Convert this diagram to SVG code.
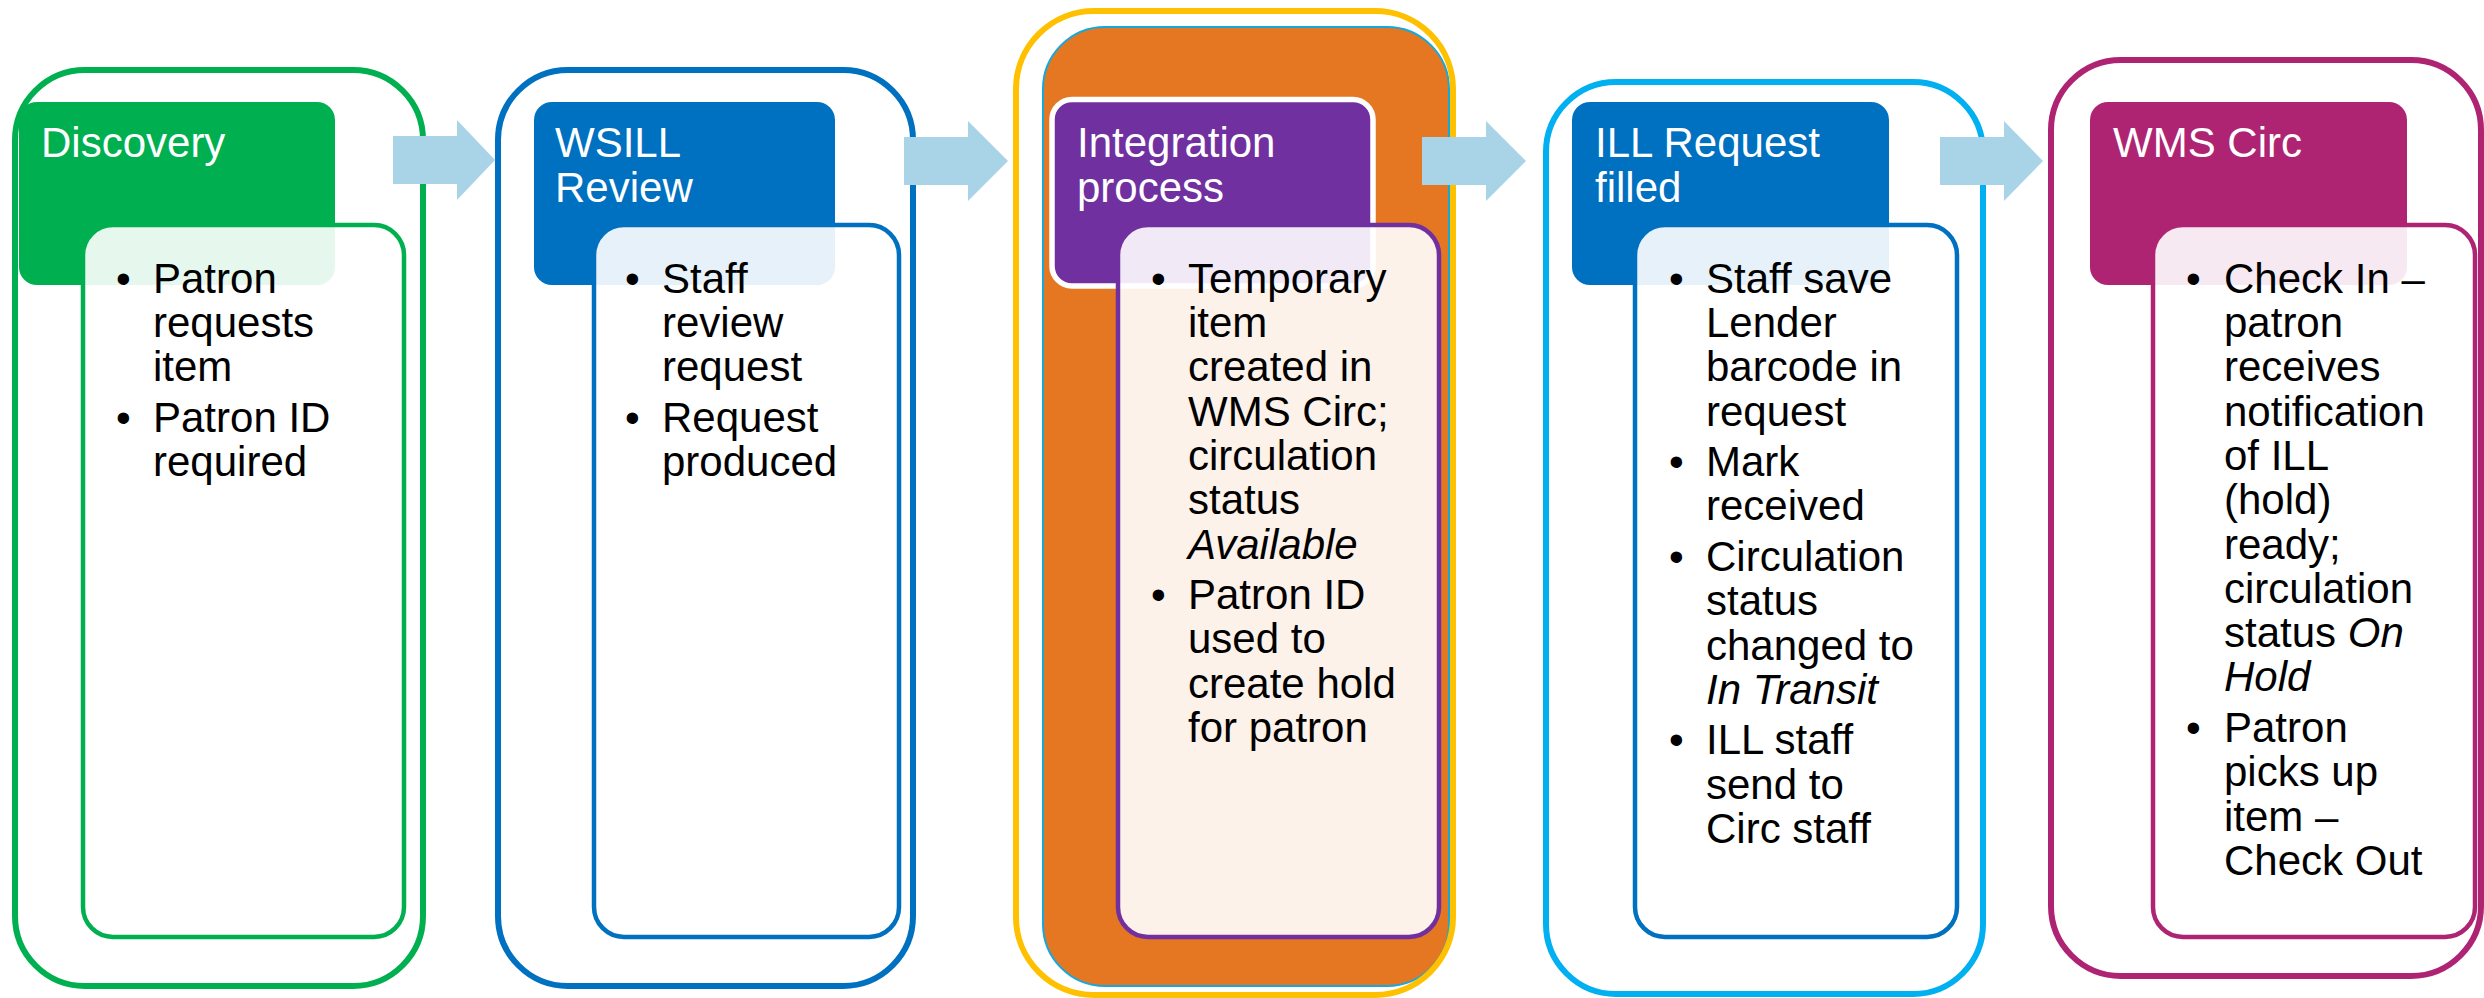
<svg xmlns="http://www.w3.org/2000/svg" width="2484" height="998" viewBox="0 0 2484 998">
<style>
text { font-family: "Liberation Sans", Arial, sans-serif; font-size: 42px; }
.hdr { fill: #ffffff; }
.body { fill: #000000; }
.it { font-style: italic; }
.arrow { fill: #A9D4E8; }
.frame { fill: none; stroke-width: 6; }
.content { stroke-width: 4.5; fill: #ffffff; fill-opacity: 0.9; }
</style>
<rect x="0" y="0" width="2484" height="998" fill="#ffffff"/>

<g id="discovery">
  <rect class="frame" x="15" y="70" width="408" height="916" rx="70" stroke="#00B050"/>
  <rect x="19" y="102" width="316" height="183" rx="18" fill="#00B050"/>
  <rect class="content" x="83" y="225" width="321" height="712" rx="30" stroke="#00B050"/>
  <text class="hdr" x="41" y="157">Discovery</text>
  <text class="body" x="116" y="292.7">•</text>
  <text class="body"><tspan x="153" y="292.7">Patron</tspan><tspan x="153" y="337">requests</tspan><tspan x="153" y="381.3">item</tspan></text>
  <text class="body" x="116" y="431.8">•</text>
  <text class="body"><tspan x="153" y="431.8">Patron ID</tspan><tspan x="153" y="476.1">required</tspan></text>
</g>

<g id="wsill">
  <rect class="frame" x="498" y="70" width="415" height="916" rx="70" stroke="#0070C0"/>
  <rect x="534" y="102" width="301" height="183" rx="18" fill="#0070C0"/>
  <rect class="content" x="594" y="225" width="305" height="712" rx="30" stroke="#0070C0"/>
  <text class="hdr"><tspan x="555" y="157">WSILL</tspan><tspan x="555" y="202">Review</tspan></text>
  <text class="body" x="625" y="292.7">•</text>
  <text class="body"><tspan x="662" y="292.7">Staff</tspan><tspan x="662" y="337">review</tspan><tspan x="662" y="381.3">request</tspan></text>
  <text class="body" x="625" y="431.8">•</text>
  <text class="body"><tspan x="662" y="431.8">Request</tspan><tspan x="662" y="476.1">produced</tspan></text>
</g>

<g id="integration">
  <rect x="1043" y="27" width="406" height="959" rx="62" fill="#E57722" stroke="#12A9DC" stroke-width="2"/>
  <rect class="frame" x="1016" y="11" width="437" height="984" rx="78" stroke="#FFC000"/>
  <rect x="1052" y="99.5" width="321" height="186.5" rx="20" fill="#7030A0" stroke="#ffffff" stroke-width="5.5"/>
  <rect class="content" x="1118" y="225" width="321" height="712" rx="30" stroke="#7030A0" stroke-width="5"/>
  <text class="hdr"><tspan x="1077" y="157">Integration</tspan><tspan x="1077" y="202">process</tspan></text>
  <text class="body" x="1151" y="292.7">•</text>
  <text class="body"><tspan x="1188" y="292.7">Temporary</tspan><tspan x="1188" y="337">item</tspan><tspan x="1188" y="381.3">created in</tspan><tspan x="1188" y="425.6">WMS Circ;</tspan><tspan x="1188" y="469.9">circulation</tspan><tspan x="1188" y="514.2">status</tspan><tspan x="1188" y="558.5" class="it">Available</tspan></text>
  <text class="body" x="1151" y="609">•</text>
  <text class="body"><tspan x="1188" y="609">Patron ID</tspan><tspan x="1188" y="653.3">used to</tspan><tspan x="1188" y="697.6">create hold</tspan><tspan x="1188" y="741.9">for patron</tspan></text>
</g>

<g id="ill-request">
  <rect class="frame" x="1546" y="82" width="437" height="912" rx="70" stroke="#00B0F0"/>
  <rect x="1572" y="102" width="317" height="183" rx="18" fill="#0070C0"/>
  <rect class="content" x="1635" y="225" width="322" height="712" rx="30" stroke="#0070C0"/>
  <text class="hdr"><tspan x="1595" y="157">ILL Request</tspan><tspan x="1595" y="202">filled</tspan></text>
  <text class="body" x="1669" y="292.7">•</text>
  <text class="body"><tspan x="1706" y="292.7">Staff save</tspan><tspan x="1706" y="337">Lender</tspan><tspan x="1706" y="381.3">barcode in</tspan><tspan x="1706" y="425.6">request</tspan></text>
  <text class="body" x="1669" y="476.1">•</text>
  <text class="body"><tspan x="1706" y="476.1">Mark</tspan><tspan x="1706" y="520.4">received</tspan></text>
  <text class="body" x="1669" y="570.9">•</text>
  <text class="body"><tspan x="1706" y="570.9">Circulation</tspan><tspan x="1706" y="615.2">status</tspan><tspan x="1706" y="659.5">changed to</tspan><tspan x="1706" y="703.8" class="it">In Transit</tspan></text>
  <text class="body" x="1669" y="754.3">•</text>
  <text class="body"><tspan x="1706" y="754.3">ILL staff</tspan><tspan x="1706" y="798.6">send to</tspan><tspan x="1706" y="842.9">Circ staff</tspan></text>
</g>

<g id="wms-circ">
  <rect class="frame" x="2051" y="60" width="430" height="916" rx="70" stroke="#AE2472"/>
  <rect x="2090" y="102" width="317" height="183" rx="18" fill="#AE2472"/>
  <rect class="content" x="2153" y="225" width="322" height="712" rx="30" stroke="#AE2472"/>
  <text class="hdr" x="2113" y="157">WMS Circ</text>
  <text class="body" x="2186" y="292.7">•</text>
  <text class="body"><tspan x="2224" y="292.7">Check In –</tspan><tspan x="2224" y="337">patron</tspan><tspan x="2224" y="381.3">receives</tspan><tspan x="2224" y="425.6">notification</tspan><tspan x="2224" y="469.9">of ILL</tspan><tspan x="2224" y="514.2">(hold)</tspan><tspan x="2224" y="558.5">ready;</tspan><tspan x="2224" y="602.8">circulation</tspan><tspan x="2224" y="647.1">status <tspan class="it">On</tspan></tspan><tspan x="2224" y="691.4" class="it">Hold</tspan></text>
  <text class="body" x="2186" y="741.9">•</text>
  <text class="body"><tspan x="2224" y="741.9">Patron</tspan><tspan x="2224" y="786.2">picks up</tspan><tspan x="2224" y="830.5">item –</tspan><tspan x="2224" y="874.8">Check Out</tspan></text>
</g>

<g id="connectors">
  <path class="arrow" d="M393,136 H457 V120 L495,160 L457,200 V184 H393 Z"/>
  <path class="arrow" d="M904,137 H968 V121 L1008,161 L968,201 V185 H904 Z"/>
  <path class="arrow" d="M1422,137 H1486 V121 L1526,161 L1486,201 V185 H1422 Z"/>
  <path class="arrow" d="M1940,137 H2004 V121 L2043,161 L2004,201 V185 H1940 Z"/>
</g>
</svg>
